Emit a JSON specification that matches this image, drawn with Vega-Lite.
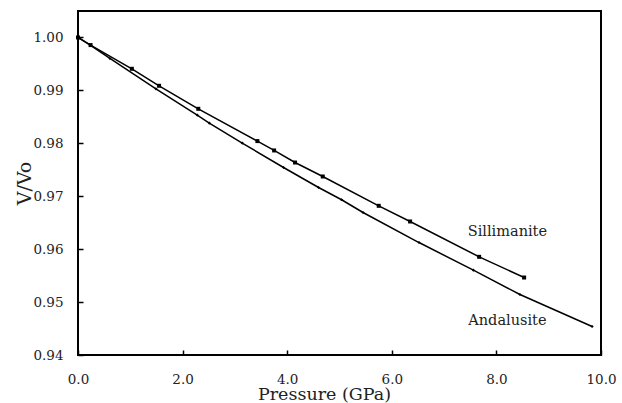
{
  "$schema": "https://vega.github.io/schema/vega-lite/v6.json",
  "autosize": {"type": "none"},
  "width": 523,
  "height": 344,
  "padding": {"left": 78, "top": 11, "right": 21, "bottom": 48},
  "background": "white",
  "config": {
    "view": {"stroke": "black", "strokeWidth": 2},
    "font": "DejaVu Serif",
    "axis": {
      "grid": false,
      "domain": false,
      "tickColor": "black",
      "tickWidth": 1.5,
      "tickSize": -5,
      "labelFlush": false,
      "labelFont": "DejaVu Serif",
      "labelFontSize": 13.5,
      "labelColor": "#222",
      "titleFont": "DejaVu Serif",
      "titleFontSize": 17.5,
      "titleFontWeight": "normal",
      "titleColor": "#222"
    }
  },
  "data": {
    "values": [
      {"p": 0.0, "v": 1.0, "m": "Sillimanite"},
      {"p": 0.24, "v": 0.99856, "m": "Sillimanite"},
      {"p": 1.03, "v": 0.99408, "m": "Sillimanite"},
      {"p": 1.55, "v": 0.99087, "m": "Sillimanite"},
      {"p": 2.30, "v": 0.98652, "m": "Sillimanite"},
      {"p": 3.43, "v": 0.98042, "m": "Sillimanite"},
      {"p": 3.75, "v": 0.97865, "m": "Sillimanite"},
      {"p": 4.15, "v": 0.97637, "m": "Sillimanite"},
      {"p": 4.68, "v": 0.97373, "m": "Sillimanite"},
      {"p": 5.75, "v": 0.96819, "m": "Sillimanite"},
      {"p": 6.35, "v": 0.96523, "m": "Sillimanite"},
      {"p": 7.67, "v": 0.95855, "m": "Sillimanite"},
      {"p": 8.53, "v": 0.95464, "m": "Sillimanite"},
      {"p": 0.0, "v": 1.0, "m": "Andalusite"},
      {"p": 0.24, "v": 0.99850, "m": "Andalusite"},
      {"p": 0.61, "v": 0.99603, "m": "Andalusite"},
      {"p": 1.49, "v": 0.99030, "m": "Andalusite"},
      {"p": 2.28, "v": 0.98533, "m": "Andalusite"},
      {"p": 2.51, "v": 0.98382, "m": "Andalusite"},
      {"p": 3.14, "v": 0.98004, "m": "Andalusite"},
      {"p": 3.93, "v": 0.97543, "m": "Andalusite"},
      {"p": 4.60, "v": 0.97165, "m": "Andalusite"},
      {"p": 5.04, "v": 0.96933, "m": "Andalusite"},
      {"p": 5.45, "v": 0.96693, "m": "Andalusite"},
      {"p": 6.52, "v": 0.96125, "m": "Andalusite"},
      {"p": 7.56, "v": 0.95603, "m": "Andalusite"},
      {"p": 8.45, "v": 0.95143, "m": "Andalusite"},
      {"p": 9.83, "v": 0.94538, "m": "Andalusite"}
    ]
  },
  "layer": [
    {
      "mark": {"type": "line", "color": "black", "strokeWidth": 1.5},
      "encoding": {
        "x": {
          "field": "p", "type": "quantitative",
          "scale": {"domain": [0, 10], "nice": false, "zero": false},
          "axis": {
            "values": [0, 2, 4, 6, 8, 10], "format": ".1f",
            "title": "Pressure (GPa)",
            "labelPadding": 22,
            "titleX": 246, "titleY": 44, "titleAnchor": null, "titleAlign": "center", "titleBaseline": "alphabetic"
          }
        },
        "y": {
          "field": "v", "type": "quantitative",
          "scale": {"domain": [0.94, 1.005], "nice": false, "zero": false},
          "axis": {
            "values": [0.94, 0.95, 0.96, 0.97, 0.98, 0.99, 1.0], "format": ".2f",
            "title": "V/Vo",
            "labelPadding": 20,
            "titleFontSize": 19,
            "titleX": -54, "titleY": 172, "titleAngle": -90, "titleAlign": "center", "titleBaseline": "middle"
          }
        },
        "detail": {"field": "m", "type": "nominal"}
      }
    },
    {
      "mark": {"type": "point", "filled": true, "color": "black", "opacity": 1},
      "encoding": {
        "x": {"field": "p", "type": "quantitative"},
        "y": {"field": "v", "type": "quantitative"},
        "shape": {"field": "m", "type": "nominal", "scale": {"domain": ["Sillimanite", "Andalusite"], "range": ["square", "diamond"]}, "legend": null},
        "size": {"field": "m", "type": "nominal", "scale": {"domain": ["Sillimanite", "Andalusite"], "range": [16, 10]}, "legend": null}
      }
    },
    {
      "data": {"values": [
        {"p": 8.21, "v": 0.9625, "label": "Sillimanite"},
        {"p": 8.21, "v": 0.94567, "label": "Andalusite"}
      ]},
      "mark": {"type": "text", "align": "center", "baseline": "alphabetic", "font": "DejaVu Serif", "fontSize": 14.5, "color": "#222"},
      "encoding": {
        "x": {"field": "p", "type": "quantitative"},
        "y": {"field": "v", "type": "quantitative"},
        "text": {"field": "label"}
      }
    }
  ]
}
